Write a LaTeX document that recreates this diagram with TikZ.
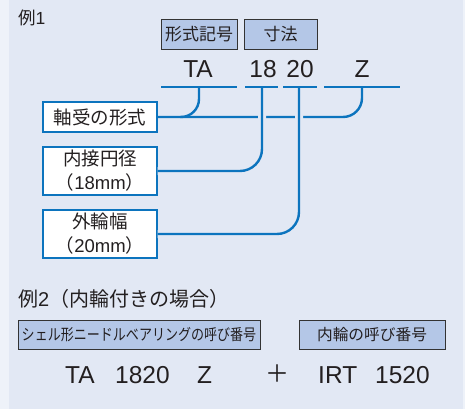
\documentclass[tikz,border=0pt]{standalone}
\usepackage{fontspec}
\setmainfont{Liberation Sans}
\newfontfamily\jp{Noto Sans CJK JP}
\usepackage{graphicx}
\definecolor{bgmain}{RGB}{226,232,244}
\definecolor{bgedge}{RGB}{238,242,249}
\definecolor{hdrfill}{RGB}{180,199,231}
\definecolor{lineblue}{RGB}{12,116,190}
\definecolor{txt}{RGB}{35,31,32}
\tikzset{
  hdrbox/.style={draw=black!80, line width=0.9pt, fill=hdrfill, inner sep=0pt, text=txt, font=\jp\fontsize{17}{20}\selectfont},
  whitebox/.style={draw=lineblue, line width=1.1pt, fill=white, inner sep=0pt, text=txt, align=center, font=\jp\fontsize{18.5}{24}\selectfont},
  ex2box/.style={draw=black!80, line width=0.9pt, fill=hdrfill, inner sep=0pt, text=txt, font=\jp\fontsize{15.7}{18}\selectfont},
  code/.style={inner sep=0pt, text=txt, font=\fontsize{24.5}{28}\selectfont},
  conn/.style={draw=lineblue, line width=2.4pt},
  gapconn/.style={conn, preaction={draw=bgmain, line width=8pt}},
}
\begin{document}
\begin{tikzpicture}[x={(1pt,0)}, y={(0,-1pt)}]
\useasboundingbox (0,0) rectangle (465,409);
\fill[bgedge] (0,0) rectangle (465,409);
\fill[bgmain] (9,0) rectangle (463,409);

% Example 1 title
\node[anchor=base west, inner sep=0pt, text=txt, font=\fontsize{17.5}{20}\selectfont] (ex1) at (18,25) {{\jp 例}1};

% header boxes
\node[hdrbox, minimum width=76, minimum height=30] (kigo) at (199,34) {形式記号};
\node[hdrbox, minimum width=73, minimum height=30] (sunpo) at (280.5,34) {寸法};

% codes
\node[code, anchor=base] (ta) at (198,78) {TA};
\node[code, anchor=base] (n18) at (263,78) {18};
\node[code, anchor=base] (n20) at (300,78) {20};
\node[code, anchor=base] (z) at (362,78) {Z};

% description boxes
\node[whitebox, minimum width=114, minimum height=30] (jk) at (100,117) {軸受の形式};
\node[whitebox, minimum width=114, minimum height=48] (nj) at (100,171) {内接円径\\（{\rmfamily 18mm}）};
\node[whitebox, minimum width=114, minimum height=48] (gw) at (100,234) {外輪幅\\（{\rmfamily 20mm}）};

% anchor coordinates on top lines
\coordinate (cta) at (199,87);
\coordinate (c18) at (262,87);
\coordinate (c20) at (299,87);
\coordinate (cz) at (362,87);

% connectors
\draw[conn, rounded corners=19pt] (jk.east) -- (cz |- jk.east) -- (cz);
\draw[conn, rounded corners=18pt] (cta) |- (180,117);
\draw[gapconn, rounded corners=22pt] (c18) |- (nj.east);
\draw[gapconn, rounded corners=22pt] (c20) |- (gw.east);

% top underline segments
\draw[conn] (161,87) -- (237,87);
\draw[conn] (245,87) -- (278,87);
\draw[conn] (283,87) -- (317,87);
\draw[conn] (324,87) -- (400,87);

% Example 2
\node[anchor=base west, inner sep=0pt, text=txt, font=\jp\fontsize{20}{24}\selectfont] (ex2) at (18,306) {例{\rmfamily 2}（内輪付きの場合）};
\node[ex2box, minimum width=242, minimum height=29] (shell) at (139,334.5) {\scalebox{0.83}[1]{シェル形ニードルベアリングの呼び番号}};
\node[ex2box, minimum width=146, minimum height=29] (inner) at (372,334.5) {内輪の呼び番号};

\node[code, anchor=base west] (b1) at (65,383) {TA};
\node[code, anchor=base west] (b2) at (115,383) {1820};
\node[code, anchor=base west] (b3) at (197,383) {Z};
\node[inner sep=0pt, text=txt, font=\jp\fontsize{24}{28}\selectfont, anchor=center] (plus) at (277,374) {＋};
\node[code, anchor=base west] (b4) at (318,383) {IRT};
\node[code, anchor=base west] (b5) at (375,383) {1520};
\end{tikzpicture}
\end{document}
